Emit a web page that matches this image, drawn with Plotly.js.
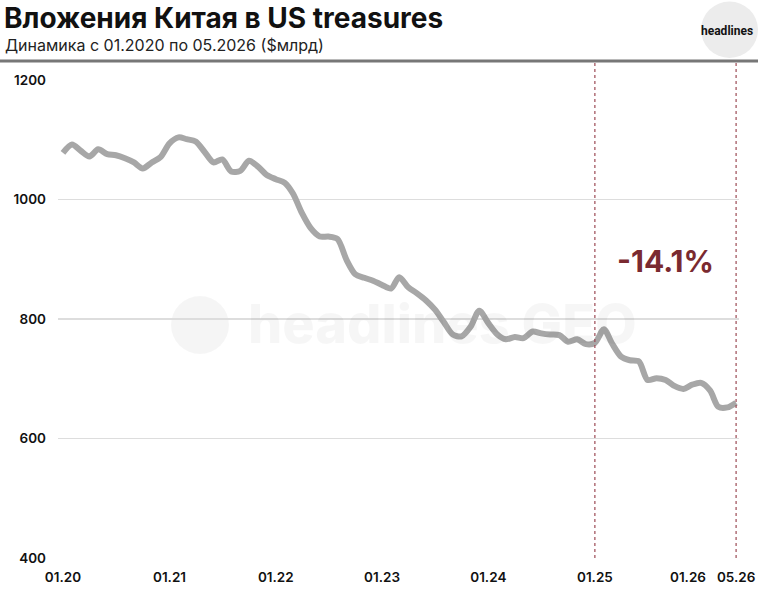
<!DOCTYPE html>
<html>
<head>
<meta charset="utf-8">
<script src="https://cdn.plot.ly/plotly-3.0.1.min.js"></script>
<style>
html,body{margin:0;padding:0;background:#fff;}
#chart{width:758px;height:605px;}
</style>
</head>
<body>
<div id="chart"></div>
<script>
// Monthly holdings of US treasuries by China, $bn, 01.2020 .. 05.2026
var startYear = 2020, startMonth = 1;
var holdings = [
  1078, 1092, 1082, 1072, 1084, 1076, 1074, 1069, 1062, 1052, 1062, 1071,
  1094, 1104, 1101, 1097, 1080, 1062, 1067, 1047, 1048, 1065, 1055, 1041,
  1034, 1028, 1010, 977, 952, 938, 938, 934, 899, 875, 869, 864,
  857, 851, 870, 853, 843, 831, 816, 795, 774, 771, 787, 814,
  793, 774, 766, 770, 768, 779, 776, 774, 773, 762, 766, 758,
  760, 783, 759, 737, 731, 729, 698, 701, 698, 688, 683, 690,
  693, 680, 653, 652, 660
];
var tickDates = ['2020-01-01','2021-01-01','2022-01-01','2023-01-01','2024-01-01','2025-01-01','2026-05-01'];
var tickLabels = ['01.20','01.21','01.22','01.23','01.24','01.25','05.26'];
var extraTickDate = '2026-01-01';
var extraTickLabel = '01.26';
var markerDates = ['2025-01-01','2026-05-01'];
var changeLabel = '-14.1%';
var titleText = 'Вложения Китая в US treasures';
var subtitleText = 'Динамика с 01.2020 по 05.2026 ($млрд)';

var months = [];
for (var i = 0; i < holdings.length; i++) {
  var m = startMonth - 1 + i;
  var y = startYear + Math.floor(m / 12);
  var mm = (m % 12) + 1;
  months.push(y + '-' + (mm < 10 ? '0' + mm : mm) + '-01');
}

var W = 758, H = 605;
var L = 58, R = 19, T = 80, B = 47;
var pw = W - L - R, ph = H - T - B;
function px(x){ return (x - L) / pw; }
function py(y){ return (H - B - y) / ph; }

var tickFont = {family:'Inter, Roboto, sans-serif', size:13.5, weight:600, color:'#111111'};

var trace = {
  x: months, y: holdings, type: 'scatter', mode: 'lines',
  line: {color: '#a7a7a7', width: 6, shape: 'spline', smoothing: 0.8},
  hoverinfo: 'skip'
};

var shapes = [
  {type:'line', xref:'paper', yref:'paper', x0: px(0), x1: px(758), y0: py(61), y1: py(61),
   line:{color:'#777777', width:3}},
  {type:'circle', xref:'paper', yref:'paper', x0: px(701), x1: px(758), y0: py(58), y1: py(1.5),
   fillcolor:'#ececec', line:{width:0}},
  {type:'circle', xref:'paper', yref:'paper', layer:'below', x0: px(171), x1: px(229), y0: py(354), y1: py(296),
   fillcolor:'rgba(0,0,0,0.04)', line:{width:0}}
];
markerDates.forEach(function(d){
  shapes.push({type:'line', xref:'x', yref:'paper', x0:d, x1:d, y0:0, y1: py(62),
    line:{color:'#9c4a55', width:1.2, dash:'dot'}});
});

var annotations = [
  {xref:'paper', yref:'paper', x: px(2), y: py(18), xanchor:'left', yanchor:'middle', showarrow:false,
   text: titleText, font:{family:'Inter, Roboto, sans-serif', size:28, weight:700, color:'#111111'}},
  {xref:'paper', yref:'paper', x: px(3), y: py(45), xanchor:'left', yanchor:'middle', showarrow:false,
   text: subtitleText, font:{family:'Inter, Roboto, sans-serif', size:16, color:'#222222'}},
  {xref:'paper', yref:'paper', x: px(727), y: py(31), xanchor:'center', yanchor:'middle', showarrow:false,
   text: 'headlines', font:{family:'Roboto, sans-serif', size:12, weight:700, color:'#111111'}},
  {xref:'paper', yref:'paper', x: px(443), y: py(323), xanchor:'center', yanchor:'middle', showarrow:false,
   text: 'headlines GEO', font:{family:'Inter, Roboto, sans-serif', size:54, weight:800, color:'rgba(0,0,0,0.035)'}},
  {xref:'paper', yref:'paper', x: px(665), y: py(261), xanchor:'center', yanchor:'middle', showarrow:false,
   text: changeLabel, font:{family:'Inter, Roboto, sans-serif', size:30, weight:700, color:'#7a2a30'}},
  {xref:'x', yref:'paper', x: extraTickDate, xshift: -13, y: py(576.5), xanchor:'center', yanchor:'middle', showarrow:false,
   text: extraTickLabel, font: tickFont}
];

var layout = {
  width: W, height: H,
  margin: {l: L, r: R, t: T, b: B},
  paper_bgcolor: '#ffffff', plot_bgcolor: '#ffffff',
  showlegend: false,
  xaxis: {
    type: 'date', range: ['2019-12-15', '2026-05-11'],
    tickvals: tickDates, ticktext: tickLabels, tickangle: 0,
    showgrid: false, zeroline: false, showline: false, ticks: '',
    ticklabelstandoff: 9,
    tickfont: tickFont
  },
  yaxis: {
    range: [400, 1200], tickvals: [400, 600, 800, 1000, 1200],
    showgrid: true, gridcolor: '#dddddd', gridwidth: 1.2,
    zeroline: false, showline: false, ticks: '',
    ticklabelstandoff: 11,
    tickfont: tickFont
  },
  shapes: shapes,
  annotations: annotations
};

Plotly.newPlot('chart', [trace], layout, {displayModeBar: false, staticPlot: true});
</script>
</body>
</html>
